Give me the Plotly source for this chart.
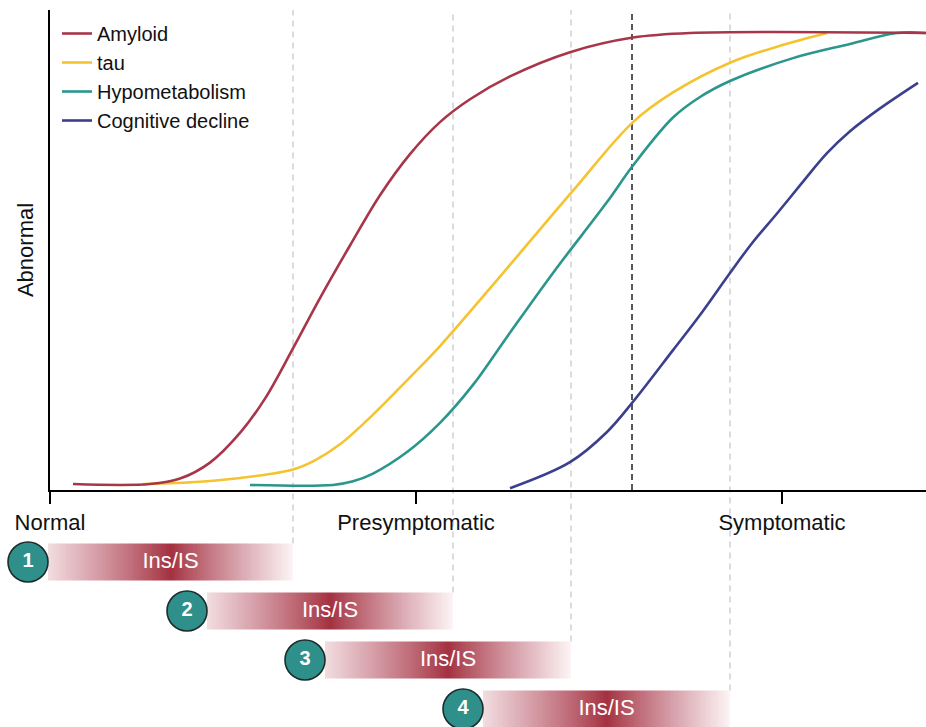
import plotly.graph_objects as go
import numpy as np

# ---------------- data (x in progression units, y in % abnormal) ----------------
amyloid_x = [23, 100, 130, 160, 190, 215, 243, 270, 300, 330, 360, 390, 420, 460, 520, 583, 640, 876]
amyloid_y = [1.3, 1.3, 2.5, 6.0, 12.5, 20.0, 31.0, 42.0, 53.5, 64.5, 73.5, 80.5, 85.5, 90.5, 95.8, 99.0, 100, 100]

tau_x = [93, 150, 200, 243, 265, 290, 323, 357, 390, 457, 523, 583, 623, 680, 730, 777]
tau_y = [1.3, 1.8, 2.9, 4.5, 6.5, 10.0, 16.5, 24.0, 31.5, 48.5, 65.5, 80.5, 87.0, 93.5, 97.2, 100]

hypo_x = [200, 283, 303, 323, 357, 390, 423, 457, 503, 557, 583, 623, 650, 680, 743, 800, 847, 876]
hypo_y = [1.1, 1.1, 1.9, 3.6, 8.3, 14.7, 23.0, 33.5, 47.5, 63.0, 71.0, 81.5, 86.0, 89.5, 94.5, 97.6, 100, 100]

cog_x = [460, 520, 557, 583, 623, 650, 680, 702, 727, 752, 777, 800, 830, 868]
cog_y = [0.4, 6.1, 12.7, 19.3, 30.6, 38.3, 47.5, 54.0, 60.5, 67.2, 73.7, 78.5, 83.5, 89.1]

stage_ticks = [0, 366, 732]
stage_labels = ["Normal", "Presymptomatic", "Symptomatic"]

bar_numbers = ["1", "2", "3", "4"]
bar_start = [-22, 137, 255, 413]
bar_end = [243, 403, 521, 680]
bar_label = ["Ins/IS", "Ins/IS", "Ins/IS", "Ins/IS"]

marker_line_x = 582  # black dashed reference line

# ---------------- styling ----------------
FONT = "Liberation Sans, Arial, Helvetica, sans-serif"
C_AMY = "#a8364a"
C_TAU = "#f6c330"
C_HYP = "#2a968c"
C_COG = "#3b3f8d"
W, H = 926, 727

y_dom = [(H - 490) / H, (H - 10) / H]
x_dom = [50 / W, 1.0]
y_rng = [0, 480 / 4.57]
bar_dom = [0, (H - 490) / H]
bar_rng = [(727 - 562) / 49 + 1, 1 - (562 - 490) / 49]
half_h = 18.5 / 49
circle_r = 20


def y2_to_paper(v):
    return bar_dom[0] + (bar_dom[1] - bar_dom[0]) * (v - bar_rng[0]) / (bar_rng[1] - bar_rng[0])


fig = go.Figure()

series = [
    ("Amyloid", amyloid_x, amyloid_y, C_AMY),
    ("tau", tau_x, tau_y, C_TAU),
    ("Hypometabolism", hypo_x, hypo_y, C_HYP),
    ("Cognitive decline", cog_x, cog_y, C_COG),
]
for rank, (name, xs, ys, col) in reversed(list(enumerate(series))):
    fig.add_trace(go.Scatter(
        x=xs, y=ys, mode="lines", name=name,
        line=dict(color=col, width=2.6, shape="spline", smoothing=1.0),
        hoverinfo="skip", legendrank=rank + 1,
    ))

# gradient bars
colorscale = [[0, "#fcf4f5"], [0.45, "#d59ca6"], [1, "#a3303f"]]
for i, (s, e) in enumerate(zip(bar_start, bar_end)):
    row = i + 1
    s_vis = s + circle_r
    n = 160
    xe = np.linspace(s_vis, e, n + 1)
    xc = (xe[:-1] + xe[1:]) / 2
    u = (xc - s_vis) / (e - s_vis)
    z = 1 - np.abs(2 * u - 1) ** 0.9
    z[u < 0.5] = 0.12 + 0.88 * z[u < 0.5]
    fig.add_trace(go.Heatmap(
        x=xe, y=[row - half_h, row + half_h], z=[z],
        colorscale=colorscale, zmin=0, zmax=1, showscale=False,
        hoverinfo="skip", xaxis="x2", yaxis="y2", zsmooth=False,
    ))

rows = list(range(1, len(bar_numbers) + 1))
fig.add_trace(go.Scatter(
    x=[(s + circle_r + e) / 2 for s, e in zip(bar_start, bar_end)], y=rows,
    mode="text", text=bar_label, textfont=dict(color="white", size=22, family=FONT),
    xaxis="x2", yaxis="y2", showlegend=False, hoverinfo="skip",
))
fig.add_trace(go.Scatter(
    x=bar_start, y=rows, mode="markers+text",
    text=["<b>%s</b>" % t for t in bar_numbers],
    textfont=dict(color="white", size=20, family=FONT),
    marker=dict(size=2 * circle_r, color="#2f8f8a", line=dict(color="#1d2b2b", width=1.6)),
    xaxis="x2", yaxis="y2", showlegend=False, hoverinfo="skip", cliponaxis=False,
))

shapes = []
for i, e in enumerate(bar_end):
    row = i + 1
    shapes.append(dict(
        type="line", xref="x", yref="paper", x0=e, x1=e,
        y0=y2_to_paper(row - half_h), y1=y_dom[1],
        line=dict(color="#cfcfcf", width=1.5, dash="6px,5px"), layer="below",
    ))
shapes.append(dict(
    type="line", xref="x", yref="y", x0=marker_line_x, x1=marker_line_x,
    y0=0, y1=y_rng[1], line=dict(color="#222222", width=1.5, dash="6px,4px"), layer="below",
))

fig.update_layout(
    width=W, height=H,
    margin=dict(l=0, r=0, t=0, b=0, autoexpand=False),
    paper_bgcolor="white", plot_bgcolor="rgba(0,0,0,0)",
    font=dict(family=FONT, size=21, color="#111111"),
    shapes=shapes,
    showlegend=True,
    legend=dict(
        x=57 / W, y=(H - 14) / H, xanchor="left", yanchor="top",
        bgcolor="rgba(0,0,0,0)", font=dict(size=20, family=FONT, color="#111111"),
        tracegroupgap=0, itemwidth=30,
    ),
    xaxis=dict(
        domain=x_dom, range=[0, 876], showgrid=False, zeroline=False,
        showline=True, linecolor="black", linewidth=1.6,
        ticks="outside", ticklen=12, tickwidth=1.6, tickcolor="black",
        tickvals=stage_ticks, ticktext=stage_labels,
        tickfont=dict(size=22, family=FONT, color="#111111"),
        anchor="y", automargin=False,
    ),
    yaxis=dict(
        domain=y_dom, range=y_rng, showgrid=False, zeroline=False,
        showline=True, linecolor="black", linewidth=1.6,
        showticklabels=False, ticks="",
        title=dict(text="Abnormal", font=dict(size=22, family=FONT, color="#111111"), standoff=9),
        anchor="x", automargin=False,
    ),
    xaxis2=dict(domain=[0, 1], range=[-50, 876], visible=False, anchor="y2"),
    yaxis2=dict(domain=bar_dom, range=bar_rng, visible=False, anchor="x2"),
)

fig.write_html(
    "out.html",
    config={"displayModeBar": False},
    post_script="document.body.style.margin='0';document.body.style.overflow='hidden';",
)
